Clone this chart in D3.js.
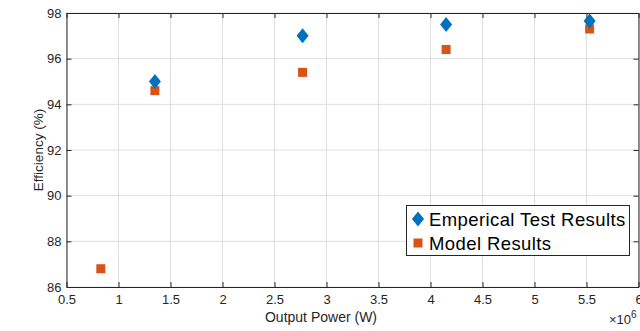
<!DOCTYPE html>
<html>
<head>
<meta charset="utf-8">
<script src="https://cdn.jsdelivr.net/npm/d3@7"></script>
<style>
  body { margin: 0; background: #fff; }
  svg { font-family: "Liberation Sans", Arial, sans-serif; }
</style>
</head>
<body>
<div id="chart"></div>
<script>
// data (x in units of 1e6 W)
var empPower = [1.35, 2.77, 4.15, 5.53];
var empEff = [95.0, 97.0, 97.5, 97.65];
var modelPower = [0.83, 1.35, 2.77, 4.15, 5.53];
var modelEff = [86.8, 94.6, 95.4, 96.4, 97.3];
var xTicks = [0.5, 1, 1.5, 2, 2.5, 3, 3.5, 4, 4.5, 5, 5.5, 6];
var yTicks = [86, 88, 90, 92, 94, 96, 98];
var legendNames = ["Emperical Test Results", "Model Results"];

var width = 640, height = 331;
var margin = {left: 66.5, right: 1.5, top: 13, bottom: 44};
var axisColor = "#262626";

var svg = d3.select("#chart").append("svg")
    .attr("width", width)
    .attr("height", height);

var xScale = d3.scaleLinear().domain([0.5, 6]).range([margin.left, width - margin.right]);
var yScale = d3.scaleLinear().domain([86, 98]).range([height - margin.bottom, margin.top]);

var x0 = xScale.range()[0], x1 = xScale.range()[1];
var y0 = yScale.range()[0], y1 = yScale.range()[1];

/* grid */
var grid = svg.append("g").attr("class", "grid");
grid.selectAll(".gx").data(xTicks).enter().append("line")
    .attr("x1", d => xScale(d)).attr("x2", d => xScale(d))
    .attr("y1", y0).attr("y2", y1)
    .style("stroke", "#dfdfdf").style("stroke-width", 1);
grid.selectAll(".gy").data(yTicks).enter().append("line")
    .attr("x1", x0).attr("x2", x1)
    .attr("y1", d => yScale(d)).attr("y2", d => yScale(d))
    .style("stroke", "#dfdfdf").style("stroke-width", 1);

/* axes (ticks pointing inward, box on all sides) */
var fmt = d => d3.format("")(d);
var xAxis = d3.axisBottom(xScale).tickValues(xTicks).tickSizeInner(-5).tickSizeOuter(0).tickPadding(8).tickFormat(fmt);
var xAxisTop = d3.axisTop(xScale).tickValues(xTicks).tickSizeInner(-5).tickSizeOuter(0).tickFormat("");
var yAxis = d3.axisLeft(yScale).tickValues(yTicks).tickSizeInner(-5).tickSizeOuter(0).tickPadding(5).tickFormat(fmt);
var yAxisRight = d3.axisRight(yScale).tickValues(yTicks).tickSizeInner(-5).tickSizeOuter(0).tickFormat("");

function styleAxis(g) {
    g.select(".domain").style("stroke", axisColor).style("stroke-width", 1);
    g.selectAll(".tick line").style("stroke", axisColor);
    g.selectAll("text").style("fill", axisColor).style("font-size", "13px")
        .style("font-family", "'Liberation Sans', Arial, sans-serif");
}

svg.append("g").attr("transform", `translate(0,${y0})`).call(xAxis).call(styleAxis);
svg.append("g").attr("transform", `translate(0,${y1})`).call(xAxisTop).call(styleAxis);
svg.append("g").attr("transform", `translate(${x0},0)`).call(yAxis).call(styleAxis);
svg.append("g").attr("transform", `translate(${x1},0)`).call(yAxisRight).call(styleAxis);

/* axis labels */
svg.append("text")
    .attr("x", 321).attr("y", 322)
    .attr("text-anchor", "middle")
    .style("font-size", "14px").style("fill", axisColor)
    .text("Output Power (W)");

svg.append("text")
    .attr("transform", `translate(43,150) rotate(-90)`)
    .attr("text-anchor", "middle")
    .style("font-size", "13.5px").style("fill", axisColor)
    .text("Efficiency (%)");

var expo = svg.append("text")
    .attr("x", 609).attr("y", 324)
    .style("font-size", "13px").style("fill", axisColor);
expo.append("tspan").text("\u00d710");
expo.append("tspan").attr("dy", -6).style("font-size", "10px").text("6");

/* markers */
var diamond = d3.symbol().type(d3.symbolDiamond).size(60);
var diamondScale = "scale(1.45,1.04)";
var empData = empPower.map((p, i) => ({x: p, y: empEff[i]}));
var modelData = modelPower.map((p, i) => ({x: p, y: modelEff[i]}));

svg.append("g").selectAll("rect").data(modelData).enter().append("rect")
    .attr("x", d => xScale(d.x) - 4.5)
    .attr("y", d => yScale(d.y) - 4.5)
    .attr("width", 9).attr("height", 9)
    .style("fill", "#D95319");

svg.append("g").selectAll("path").data(empData).enter().append("path")
    .attr("d", diamond)
    .attr("transform", d => `translate(${xScale(d.x)},${yScale(d.y)}) ${diamondScale}`)
    .style("fill", "#0072BD");

/* legend */
var lg = svg.append("g").attr("class", "legend");
lg.append("rect")
    .attr("x", 406.5).attr("y", 205.5)
    .attr("width", 223).attr("height", 50)
    .style("fill", "#fff").style("stroke", axisColor).style("stroke-width", 1);
lg.append("path")
    .attr("d", diamond)
    .attr("transform", `translate(418,219) ${diamondScale}`)
    .style("fill", "#0072BD");
lg.append("rect")
    .attr("x", 413.5).attr("y", 238.5).attr("width", 9).attr("height", 9)
    .style("fill", "#D95319");
lg.selectAll("text.lt").data(legendNames).enter().append("text")
    .attr("class", "lt")
    .attr("x", 429)
    .attr("y", (d, i) => 226 + i * 24)
    .style("font-size", "18.5px").style("letter-spacing", "0.4px").style("fill", "#000")
    .text(d => d);
</script>
</body>
</html>
